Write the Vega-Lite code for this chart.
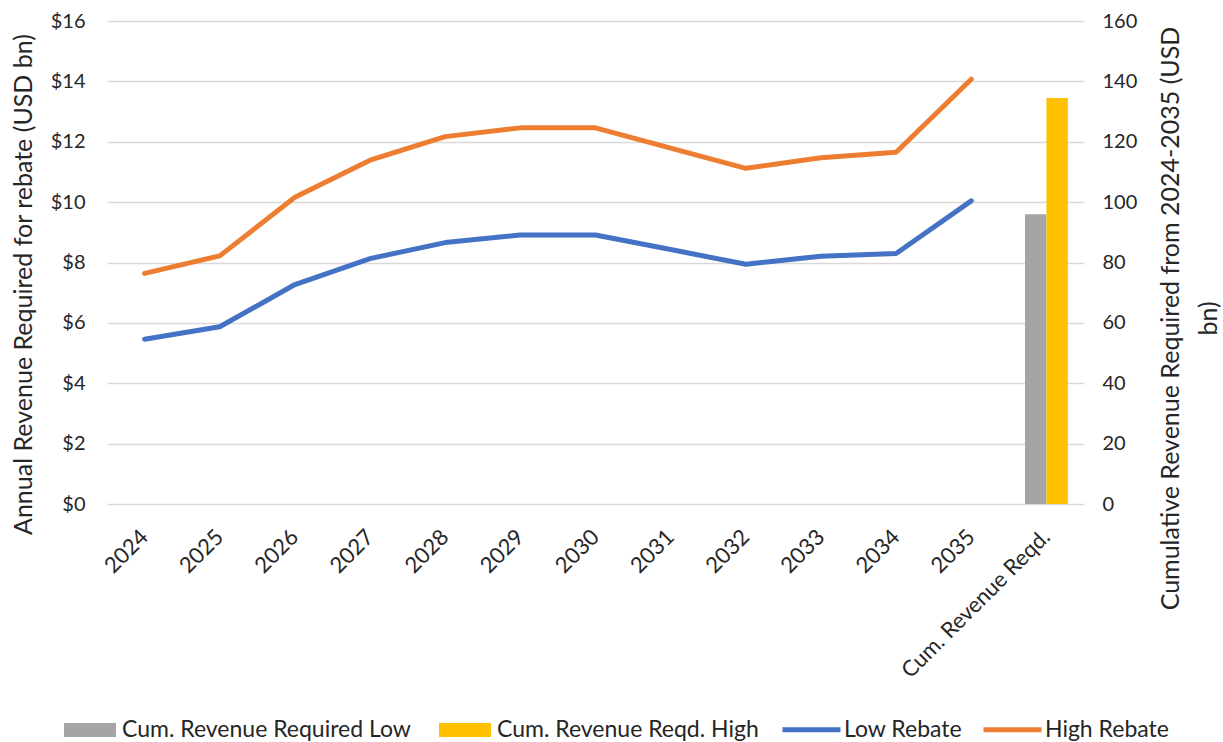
{
  "$schema": "https://vega.github.io/schema/vega-lite/v6.json",
  "width": 977,
  "height": 483,
  "autosize": {"type": "none"},
  "padding": {"left": 107, "top": 21, "right": 139, "bottom": 238},
  "background": "white",
  "config": {
    "font": "Lato",
    "view": {"stroke": null},
    "axis": {
      "domain": false,
      "ticks": false,
      "labelColor": "#262626",
      "titleColor": "#262626",
      "titleFontWeight": "normal",
      "titleFontSize": 25,
      "labelFontSize": 20
    },
    "legend": {
      "labelColor": "#262626",
      "labelFontSize": 23,
      "labelLimit": 0,
      "title": null
    }
  },
  "datasets": {
    "annual": [
      {"year": "2024", "series": "Low Rebate", "value": 5.46},
      {"year": "2025", "series": "Low Rebate", "value": 5.87},
      {"year": "2026", "series": "Low Rebate", "value": 7.27},
      {"year": "2027", "series": "Low Rebate", "value": 8.13},
      {"year": "2028", "series": "Low Rebate", "value": 8.66},
      {"year": "2029", "series": "Low Rebate", "value": 8.91},
      {"year": "2030", "series": "Low Rebate", "value": 8.91},
      {"year": "2031", "series": "Low Rebate", "value": 8.43},
      {"year": "2032", "series": "Low Rebate", "value": 7.94},
      {"year": "2033", "series": "Low Rebate", "value": 8.21},
      {"year": "2034", "series": "Low Rebate", "value": 8.30},
      {"year": "2035", "series": "Low Rebate", "value": 10.04},
      {"year": "2024", "series": "High Rebate", "value": 7.64},
      {"year": "2025", "series": "High Rebate", "value": 8.22},
      {"year": "2026", "series": "High Rebate", "value": 10.16},
      {"year": "2027", "series": "High Rebate", "value": 11.39},
      {"year": "2028", "series": "High Rebate", "value": 12.17},
      {"year": "2029", "series": "High Rebate", "value": 12.46},
      {"year": "2030", "series": "High Rebate", "value": 12.46},
      {"year": "2031", "series": "High Rebate", "value": 11.79},
      {"year": "2032", "series": "High Rebate", "value": 11.12},
      {"year": "2033", "series": "High Rebate", "value": 11.47},
      {"year": "2034", "series": "High Rebate", "value": 11.65},
      {"year": "2035", "series": "High Rebate", "value": 14.07}
    ],
    "cumulative": [
      {"year": "Cum. Revenue Reqd.", "series": "Cum. Revenue Required Low", "value": 96.0},
      {"year": "Cum. Revenue Reqd.", "series": "Cum. Revenue Reqd. High", "value": 134.5}
    ]
  },
  "encoding": {
    "x": {
      "field": "year",
      "type": "nominal",
      "scale": {
        "domain": ["2024", "2025", "2026", "2027", "2028", "2029", "2030", "2031", "2032", "2033", "2034", "2035", "Cum. Revenue Reqd."],
        "paddingInner": 0.43,
        "paddingOuter": 0.215
      },
      "axis": {
        "title": null,
        "labelAngle": -45,
        "labelAlign": "right",
        "labelBaseline": "middle",
        "labelPadding": 29,
        "labelFontSize": 22,
        "labelLimit": 0
      }
    }
  },
  "layer": [
    {
      "data": {"name": "cumulative"},
      "mark": {"type": "bar"},
      "encoding": {
        "xOffset": {
          "field": "series",
          "type": "nominal",
          "sort": ["Cum. Revenue Required Low", "Cum. Revenue Reqd. High"],
          "scale": {"paddingInner": 0, "paddingOuter": 0}
        },
        "y": {
          "field": "value",
          "type": "quantitative",
          "scale": {"domain": [0, 160], "nice": false},
          "axis": {
            "orient": "right",
            "values": [0, 20, 40, 60, 80, 100, 120, 140, 160],
            "format": "d",
            "grid": false,
            "labelAlign": "left",
            "labelPadding": 18,
            "title": ["Cumulative Revenue Required from 2024-2035 (USD", "bn)"],
            "titleAngle": -90,
            "titleAlign": "center",
            "titleBaseline": "middle",
            "titleLineHeight": 38,
            "titleX": 86,
            "titleY": 297
          }
        },
        "fill": {
          "field": "series",
          "type": "nominal",
          "scale": {
            "domain": ["Cum. Revenue Required Low", "Cum. Revenue Reqd. High"],
            "range": ["#A5A5A5", "#FFC000"]
          },
          "legend": {
            "orient": "none",
            "direction": "horizontal",
            "columns": 2,
            "legendX": -43,
            "legendY": 683,
            "symbolType": "M-1,-0.27H1V0.27H-1Z",
            "symbolSize": 2704,
            "symbolStrokeWidth": 0,
            "labelOffset": 6,
            "columnPadding": 28
          }
        }
      }
    },
    {
      "data": {"name": "annual"},
      "mark": {"type": "line", "strokeWidth": 5, "strokeCap": "round", "strokeJoin": "round"},
      "encoding": {
        "y": {
          "field": "value",
          "type": "quantitative",
          "scale": {"domain": [0, 16], "nice": false},
          "axis": {
            "orient": "left",
            "values": [0, 2, 4, 6, 8, 10, 12, 14, 16],
            "format": "$.0f",
            "grid": true,
            "gridColor": "#D9D9D9",
            "gridWidth": 1.5,
            "labelPadding": 22,
            "title": "Annual Revenue Required for rebate (USD bn)",
            "titleAngle": -90,
            "titleAlign": "center",
            "titleBaseline": "middle",
            "titleX": -84,
            "titleY": 263
          }
        },
        "stroke": {
          "field": "series",
          "type": "nominal",
          "scale": {
            "domain": ["Low Rebate", "High Rebate"],
            "range": ["#4472C4", "#ED7D31"]
          },
          "legend": {
            "orient": "none",
            "direction": "horizontal",
            "columns": 2,
            "legendX": 673,
            "legendY": 677,
            "symbolType": "stroke",
            "symbolSize": 3364,
            "symbolStrokeWidth": 5,
            "labelOffset": 1,
            "columnPadding": 10
          }
        }
      }
    }
  ],
  "resolve": {"scale": {"y": "independent", "fill": "independent", "stroke": "independent"}}
}
